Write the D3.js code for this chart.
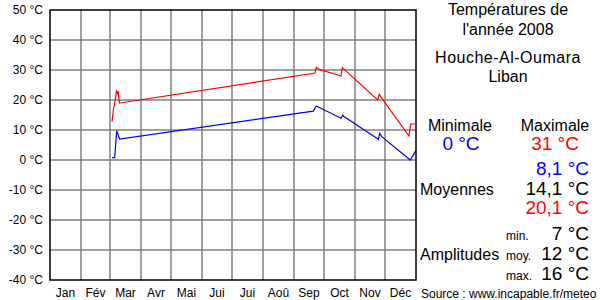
<!DOCTYPE html>
<html>
<head>
<meta charset="utf-8">
<script src="https://cdn.jsdelivr.net/npm/d3@7"></script>
<style>
  body { margin: 0; background: #fff; }
  text { font-family: "Liberation Sans", Arial, sans-serif; }
</style>
</head>
<body>
<div id="chart"></div>
<script>
// months of 2008 (leap year)
var monthNames = ["Jan", "Fév", "Mar", "Avr", "Mai", "Jui", "Jui", "Aoû", "Sep", "Oct", "Nov", "Déc"];
var monthDays = [31, 29, 31, 30, 31, 30, 31, 31, 30, 31, 30, 31];
var yTicks = [-40, -30, -20, -10, 0, 10, 20, 30, 40, 50];

// daily maximum (red) : day of year / temperature
var maxDays = [62, 63.5, 65, 66.5, 67.5, 68, 69.5, 70, 265, 266.3, 269.3, 291, 292.3, 327.7, 329.3, 331.7, 359, 360.7, 366];
var maxTemps = [12.8, 17, 19.5, 23, 22.2, 23, 19, 19, 29, 30.9, 30.2, 28, 30.8, 20, 21.9, 20.6, 8, 12, 12];

// daily minimum (blue)
var minDays = [62, 64.7, 66.7, 69.7, 263.3, 266.3, 291, 292.7, 294.3, 328.3, 329.7, 331.7, 360.3, 366];
var minTemps = [0.8, 0.8, 9.7, 7, 16.3, 18, 13.9, 14.9, 14.4, 6.9, 8.9, 7.8, 0, 3.3];

var width = 600, height = 300;
var svg = d3.select("#chart")
    .append("svg")
    .attr("width", width)
    .attr("height", height);

var x = d3.scaleLinear().domain([0, 366]).range([50, 416]);
var y = d3.scaleLinear().domain([-40, 50]).range([280, 10]);

// month boundaries
var bounds = [0];
monthDays.forEach(function (d, i) { bounds.push(bounds[i] + d); });

// grid
svg.append("g")
    .selectAll("line")
    .data(bounds.slice(1, -1))
    .enter()
    .append("line")
    .attr("x1", function (d) { return x(d) })
    .attr("x2", function (d) { return x(d) })
    .attr("y1", y(50))
    .attr("y2", y(-40))
    .attr("stroke", "#808080")
    .attr("stroke-width", 1.5);

svg.append("g")
    .selectAll("line")
    .data(yTicks.slice(1, -1))
    .enter()
    .append("line")
    .attr("x1", x(0))
    .attr("x2", x(366))
    .attr("y1", function (d) { return y(d) })
    .attr("y2", function (d) { return y(d) })
    .attr("stroke", "#808080")
    .attr("stroke-width", 1.5);

// frame
svg.append("rect")
    .attr("x", x(0))
    .attr("y", y(50))
    .attr("width", x(366) - x(0))
    .attr("height", y(-40) - y(50))
    .attr("fill", "none")
    .attr("stroke", "#000")
    .attr("stroke-width", 1.5);

// y labels
svg.append("g")
    .selectAll("text")
    .data(yTicks)
    .enter()
    .append("text")
    .attr("x", 43)
    .attr("y", function (d) { return y(d) + 4 })
    .attr("text-anchor", "end")
    .attr("font-size", 12)
    .text(function (d) { return d + " °C" });

// month labels
svg.append("g")
    .selectAll("text")
    .data(monthNames)
    .enter()
    .append("text")
    .attr("x", function (d, i) { return x((bounds[i] + bounds[i + 1]) / 2) })
    .attr("y", 297)
    .attr("text-anchor", "middle")
    .attr("font-size", 12)
    .text(function (d) { return d });

// lines
var line = d3.line()
    .x(function (d) { return x(d[0]) })
    .y(function (d) { return y(d[1]) });

svg.append("path")
    .datum(d3.zip(maxDays, maxTemps))
    .attr("fill", "none")
    .attr("stroke", "#ff0000")
    .attr("stroke-width", 1.2)
    .attr("d", line);

svg.append("path")
    .datum(d3.zip(minDays, minTemps))
    .attr("fill", "none")
    .attr("stroke", "#0000ff")
    .attr("stroke-width", 1.2)
    .attr("d", line);

// right panel
function label(tx, ty, str, size, anchor, color) {
    return svg.append("text")
        .attr("x", tx)
        .attr("y", ty)
        .attr("font-size", size)
        .attr("text-anchor", anchor || "start")
        .attr("fill", color || "#000")
        .text(str);
}

label(508, 15, "Températures de", 16, "middle");
label(508, 35, "l'année 2008", 16, "middle");
label(508, 63, "Houche-Al-Oumara", 16, "middle").attr("letter-spacing", 0.5);
label(508, 82, "Liban", 16, "middle");

label(460, 131, "Minimale", 16, "middle");
label(555, 131, "Maximale", 16, "middle");
label(461, 150, "0 °C", 19, "middle", "#0000ff");
label(555, 150, "31 °C", 19, "middle", "#ff0000");

label(589, 175, "8,1 °C", 19, "end", "#0000ff");
label(420, 195, "Moyennes", 16);
label(589, 195, "14,1 °C", 19, "end");
label(589, 214, "20,1 °C", 19, "end", "#ff0000");

label(506, 240, "min.", 12);
label(589, 240, "7 °C", 19, "end");
label(420, 260, "Amplitudes", 16);
label(506, 260, "moy.", 12);
label(589, 260, "12 °C", 19, "end");
label(506, 280, "max.", 12);
label(589, 280, "16 °C", 19, "end");

label(421, 298, "Source : www.incapable.fr/meteo", 12);
</script>
</body>
</html>
